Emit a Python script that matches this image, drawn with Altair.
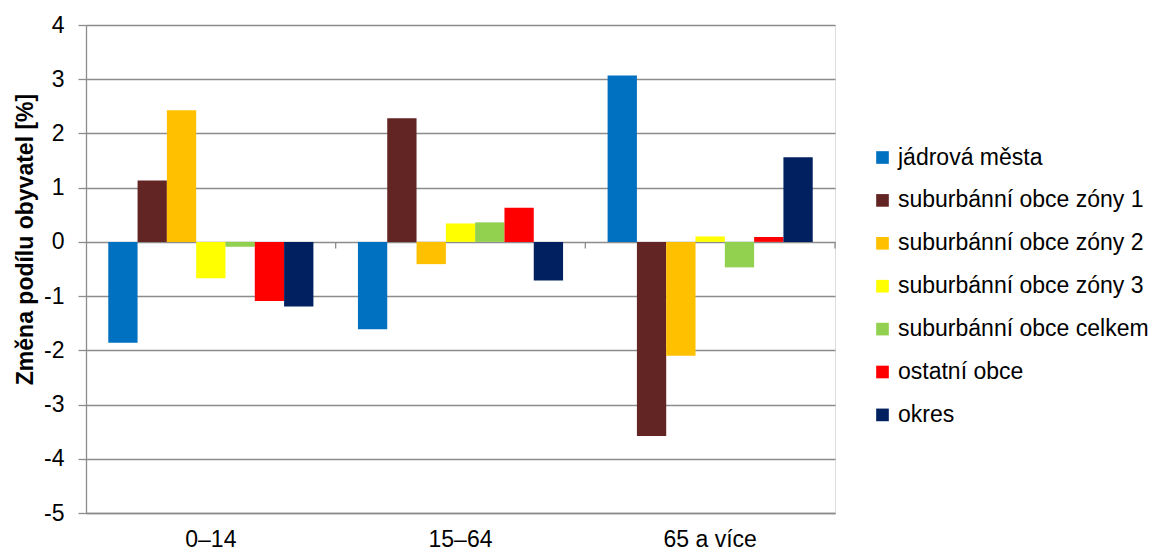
import altair as alt
import pandas as pd

categories = ["0–14", "15–64", "65 a více"]
series = [
    "jádrová města",
    "suburbánní obce zóny 1",
    "suburbánní obce zóny 2",
    "suburbánní obce zóny 3",
    "suburbánní obce celkem",
    "ostatní obce",
    "okres",
]
colors = ["#0070C0", "#632523", "#FFC000", "#FFFF00", "#92D050", "#FF0000", "#002060"]

v_jadrova = [-1.86, -1.61, 3.07]
v_zona1 = [1.13, 2.28, -3.58]
v_zona2 = [2.43, -0.41, -2.10]
v_zona3 = [-0.67, 0.34, 0.10]
v_celkem = [-0.09, 0.36, -0.47]
v_ostatni = [-1.09, 0.63, 0.09]
v_okres = [-1.19, -0.71, 1.56]

y_ticks = [-5, -4, -3, -2, -1, 0, 1, 2, 3, 4]

all_values = [v_jadrova, v_zona1, v_zona2, v_zona3, v_celkem, v_ostatni, v_okres]
rows = []
for s, vals in zip(series, all_values):
    for c, v in zip(categories, vals):
        rows.append({"kategorie": c, "serie": s, "hodnota": v})
df = pd.DataFrame(rows)
cat_df = pd.DataFrame({"kategorie": categories})

FONT = "Liberation Sans"
GRID = "#8c8c8c"
FS = 23

x_enc = alt.X(
    "kategorie:N",
    sort=categories,
    scale=alt.Scale(paddingInner=0, paddingOuter=0),
    axis=alt.Axis(
        title=None,
        labelAngle=0,
        ticks=False,
        domain=True,
        domainColor=GRID,
        domainWidth=1.3,
        labelFontSize=FS,
        labelFont=FONT,
        labelColor="#000000",
        labelPadding=15,
        labelLimit=300,
    ),
)

bars = alt.Chart(df).mark_bar().encode(
    x=x_enc,
    xOffset=alt.XOffset(
        "serie:N",
        sort=series,
        scale=alt.Scale(paddingInner=0, paddingOuter=0.76),
    ),
    y=alt.Y(
        "hodnota:Q",
        scale=alt.Scale(domain=[-5, 4], nice=False, zero=False),
        axis=alt.Axis(
            title="Změna podílu obyvatel [%]",
            values=y_ticks,
            labelExpr="datum.value + ''",
            grid=True,
            gridColor=GRID,
            gridWidth=1.3,
            domainColor=GRID,
            domainWidth=1.3,
            tickColor=GRID,
            tickWidth=1.3,
            tickSize=8,
            labelPadding=14,
            labelFontSize=FS,
            labelFont=FONT,
            labelColor="#000000",
            titleFont=FONT,
            titleFontSize=FS,
            titleFontWeight="bold",
            titleColor="#000000",
            titleAngle=-90,
            titleX=-61,
            titleY=214,
            titleAlign="center",
            titleBaseline="middle",
        ),
    ),
    color=alt.Color(
        "serie:N",
        sort=series,
        scale=alt.Scale(domain=series, range=colors),
        legend=alt.Legend(
            title=None,
            orient="none",
            legendX=785,
            legendY=121,
            symbolType="square",
            symbolSize=160,
            symbolStrokeWidth=0,
            labelFontSize=FS,
            labelFont=FONT,
            labelColor="#000000",
            labelOffset=4,
            labelLimit=400,
            rowPadding=18.9,
        ),
    ),
)

zero_ticks = alt.Chart(cat_df).mark_rule(color=GRID, strokeWidth=1.3).encode(
    x=alt.X("kategorie:N", sort=categories, bandPosition=1),
    y=alt.datum(0),
    y2=alt.datum(-0.12),
)

chart = (
    alt.layer(bars, zero_ticks)
    .properties(
        width=749,
        height=488,
        autosize=alt.AutoSizeParams(type="none"),
        padding={"left": 78, "top": 17, "right": 315, "bottom": 46},
    )
    .configure_view(stroke=None)
    .configure(font=FONT)
)

chart.save("out.html", embed_options={"renderer": "svg", "actions": False})
